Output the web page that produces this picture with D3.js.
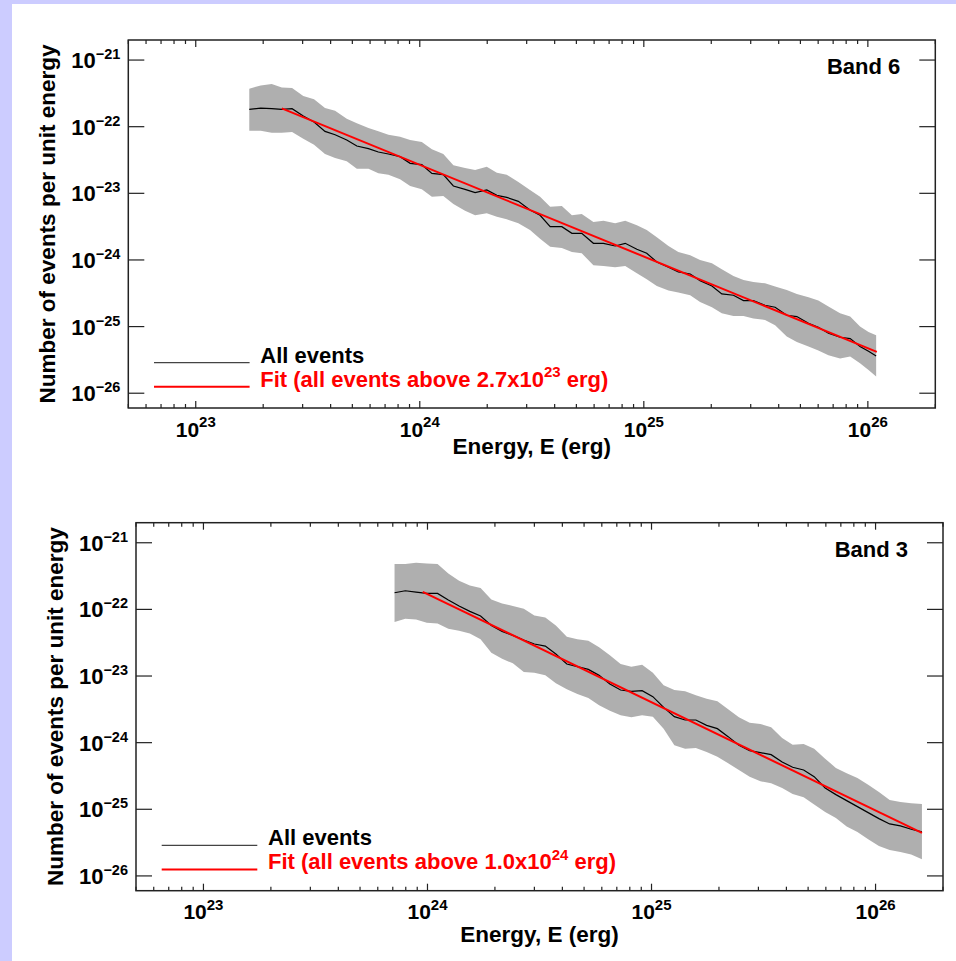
<!DOCTYPE html>
<html>
<head>
<meta charset="utf-8">
<script src="https://cdn.jsdelivr.net/npm/d3@7"></script>
<style>
    html, body { margin: 0; padding: 0; background: #ccccff; }
    svg { display: block; }
    text { font-family: "Liberation Sans", Arial, Helvetica, sans-serif; font-weight: bold; }
</style>
</head>
<body>
<div id="chart"></div>
<script>
// values are log10: energy in erg, and number of events per unit energy

// Band 6
const band6LogE = [
    23.239, 23.290, 23.339, 23.384, 23.430, 23.480, 23.528, 23.577, 23.622, 23.674,
    23.719, 23.771, 23.815, 23.860, 23.912, 23.957, 24.009, 24.054, 24.105, 24.150,
    24.202, 24.247, 24.299, 24.344, 24.388, 24.440, 24.492, 24.537, 24.582, 24.634,
    24.679, 24.723, 24.775, 24.820, 24.872, 24.917, 24.969, 25.013, 25.058, 25.110,
    25.154, 25.207, 25.251, 25.304, 25.348, 25.400, 25.445, 25.489, 25.541, 25.586,
    25.638, 25.683, 25.735, 25.779, 25.824, 25.876, 25.921, 25.965, 26.003, 26.037]
const band6Mid = [
    -21.74, -21.72, -21.73, -21.74, -21.73, -21.84, -21.93, -22.07, -22.12, -22.20,
    -22.29, -22.33, -22.38, -22.41, -22.45, -22.55, -22.57, -22.70, -22.72, -22.89,
    -22.94, -22.99, -22.95, -23.03, -23.06, -23.12, -23.25, -23.33, -23.50, -23.50,
    -23.60, -23.60, -23.75, -23.75, -23.79, -23.75, -23.84, -23.90, -24.03, -24.11,
    -24.18, -24.21, -24.31, -24.39, -24.51, -24.53, -24.61, -24.61, -24.68, -24.71,
    -24.83, -24.85, -24.95, -25.01, -25.10, -25.16, -25.18, -25.30, -25.37, -25.44]
const band6Lo = [
    -22.06, -22.06, -22.09, -22.09, -22.08, -22.18, -22.27, -22.41, -22.47, -22.52,
    -22.63, -22.63, -22.70, -22.72, -22.79, -22.89, -22.94, -23.05, -23.04, -23.16,
    -23.26, -23.33, -23.30, -23.35, -23.39, -23.45, -23.55, -23.68, -23.80, -23.82,
    -23.88, -23.90, -24.08, -24.09, -24.11, -24.09, -24.20, -24.29, -24.39, -24.46,
    -24.49, -24.53, -24.63, -24.71, -24.80, -24.84, -24.84, -24.88, -24.90, -24.98,
    -25.15, -25.23, -25.30, -25.36, -25.43, -25.48, -25.45, -25.55, -25.65, -25.75]
const band6Hi = [
    -21.43, -21.38, -21.36, -21.41, -21.42, -21.54, -21.59, -21.72, -21.76, -21.88,
    -21.95, -22.02, -22.07, -22.12, -22.15, -22.20, -22.23, -22.34, -22.41, -22.58,
    -22.62, -22.65, -22.60, -22.69, -22.72, -22.83, -22.95, -23.05, -23.20, -23.19,
    -23.33, -23.31, -23.43, -23.41, -23.45, -23.41, -23.48, -23.55, -23.66, -23.79,
    -23.88, -23.93, -24.00, -24.05, -24.14, -24.24, -24.30, -24.33, -24.35, -24.40,
    -24.45, -24.51, -24.56, -24.61, -24.70, -24.80, -24.85, -25.00, -25.08, -25.13]
const band6Fit = [[23.384, -21.725], [26.040, -25.380]]

// Band 3
const band3LogE = [
    23.853, 23.901, 23.949, 23.997, 24.045, 24.093, 24.141, 24.189, 24.237, 24.285,
    24.333, 24.381, 24.430, 24.477, 24.526, 24.573, 24.622, 24.669, 24.718, 24.766,
    24.814, 24.862, 24.910, 24.958, 25.006, 25.054, 25.102, 25.150, 25.198, 25.246,
    25.294, 25.342, 25.390, 25.438, 25.486, 25.534, 25.583, 25.630, 25.679, 25.726,
    25.775, 25.823, 25.871, 25.919, 25.967, 26.015, 26.063, 26.111, 26.159, 26.207]
const band3Mid = [
    -21.75, -21.72, -21.74, -21.76, -21.76, -21.86, -21.95, -22.03, -22.10, -22.24,
    -22.33, -22.39, -22.46, -22.52, -22.55, -22.67, -22.82, -22.86, -22.90, -22.99,
    -23.12, -23.21, -23.23, -23.22, -23.31, -23.47, -23.61, -23.66, -23.66, -23.74,
    -23.79, -23.91, -24.04, -24.12, -24.15, -24.18, -24.29, -24.37, -24.41, -24.51,
    -24.68, -24.78, -24.87, -24.96, -25.05, -25.14, -25.22, -25.25, -25.30, -25.34]
const band3Lo = [
    -22.19, -22.14, -22.15, -22.20, -22.21, -22.29, -22.32, -22.36, -22.45, -22.65,
    -22.74, -22.81, -22.94, -22.95, -22.99, -23.11, -23.20, -23.27, -23.33, -23.44,
    -23.52, -23.59, -23.62, -23.59, -23.61, -23.79, -24.04, -24.09, -24.08, -24.14,
    -24.21, -24.31, -24.41, -24.51, -24.58, -24.61, -24.68, -24.77, -24.82, -24.93,
    -25.04, -25.13, -25.26, -25.34, -25.45, -25.55, -25.61, -25.64, -25.68, -25.75]
const band3Hi = [
    -21.32, -21.32, -21.30, -21.31, -21.32, -21.46, -21.57, -21.64, -21.68, -21.85,
    -21.91, -21.95, -21.99, -22.09, -22.12, -22.24, -22.41, -22.45, -22.47, -22.57,
    -22.69, -22.82, -22.86, -22.83, -22.95, -23.14, -23.21, -23.23, -23.29, -23.34,
    -23.38, -23.50, -23.62, -23.70, -23.72, -23.77, -23.93, -24.03, -24.02, -24.09,
    -24.24, -24.38, -24.46, -24.53, -24.63, -24.74, -24.86, -24.89, -24.91, -24.92]
const band3Fit = [[23.979, -21.736], [26.207, -25.354]]

// axes
const xDomain = [5e22, 2e26]
const yDomain = [6e-27, 2e-21]
const yTickExps = [-21, -22, -23, -24, -25, -26]
const xTitle = 'Energy, E (erg)'
const yTitle = 'Number of events per unit energy'
const legendAll = 'All events'
const legendFit = 'Fit (all events above '

const SpectrumPanel = function () {
    let width = 807;
    let height = 368;
    let margin = {top: 40, left: 128.3};
    let label = '';
    let threshold = ['2.7', 23];
    let titleGap = 45.5;

    function my (selection) {
        selection.each(function (d) {
            const top = d3.select(this)
                .append('g')
                .attr('transform', `translate(${margin.left},${margin.top})`)

            const x = d3.scaleLog().domain(xDomain).range([0, width])
            const y = d3.scaleLog().domain(yDomain).range([height, 0])
            const p = v => Math.pow(10, v)
            const idx = d3.range(d.logE.length)

            // shaded spread
            const area = d3.area()
                .x(i => x(p(d.logE[i])))
                .y0(i => y(p(d.lo[i])))
                .y1(i => y(p(d.hi[i])))
            top.append('path')
                .datum(idx)
                .attr('d', area)
                .attr('fill', '#afafaf')

            // all events
            const line = d3.line()
                .x(i => x(p(d.logE[i])))
                .y(i => y(p(d.mid[i])))
            top.append('path')
                .datum(idx)
                .attr('d', line)
                .attr('fill', 'none')
                .attr('stroke', '#000')
                .attr('stroke-width', 1.2)

            // power-law fit
            top.append('path')
                .datum(d.fit)
                .attr('d', d3.line().x(f => x(p(f[0]))).y(f => y(p(f[1]))))
                .attr('fill', 'none')
                .attr('stroke', '#ff0000')
                .attr('stroke-width', 2)

            // frame
            top.append('rect')
                .attr('width', width)
                .attr('height', height)
                .attr('fill', 'none')
                .attr('stroke', '#222')
                .attr('stroke-width', 1.5)

            // x ticks, top and bottom, pointing in
            const xt = x.ticks()
            const isMajor = v => Math.abs(Math.log10(v) - Math.round(Math.log10(v))) < 1e-9
            const xticks = top.append('g').attr('class', 'x-ticks')
                .attr('stroke', '#222').attr('stroke-width', 1.2)
            xticks.selectAll('line.bottom')
                .data(xt)
                .join('line')
                .attr('class', 'bottom')
                .attr('x1', v => x(v)).attr('x2', v => x(v))
                .attr('y1', height).attr('y2', v => height - (isMajor(v) ? 7 : 4))
            xticks.selectAll('line.top')
                .data(xt)
                .join('line')
                .attr('class', 'top')
                .attr('x1', v => x(v)).attr('x2', v => x(v))
                .attr('y1', 0).attr('y2', v => isMajor(v) ? 7 : 4)

            const xlab = top.selectAll('text.xtick')
                .data(xt.filter(isMajor))
                .join('text')
                .attr('class', 'xtick')
                .attr('x', v => x(v))
                .attr('y', height + 28.5)
                .attr('text-anchor', 'middle')
                .style('font-size', '21px')
            xlab.append('tspan').text('10')
            xlab.append('tspan')
                .attr('dy', -9.5)
                .style('font-size', '15px')
                .text(v => Math.round(Math.log10(v)))

            // y ticks, left and right
            const yticks = top.append('g').attr('class', 'y-ticks')
                .attr('stroke', '#222').attr('stroke-width', 1.2)
            yticks.selectAll('line.left')
                .data(yTickExps)
                .join('line')
                .attr('class', 'left')
                .attr('x1', 0).attr('x2', 16)
                .attr('y1', e => y(p(e))).attr('y2', e => y(p(e)))
            yticks.selectAll('line.right')
                .data(yTickExps)
                .join('line')
                .attr('class', 'right')
                .attr('x1', width).attr('x2', width - 16)
                .attr('y1', e => y(p(e))).attr('y2', e => y(p(e)))

            const ylab = top.selectAll('text.ytick')
                .data(yTickExps)
                .join('text')
                .attr('class', 'ytick')
                .attr('x', -8)
                .attr('y', e => y(p(e)) + 8)
                .attr('text-anchor', 'end')
                .style('font-size', '22px')
            ylab.append('tspan').text('10')
            ylab.append('tspan')
                .attr('dy', -9)
                .style('font-size', '14.5px')
                .text(e => '\u2212' + Math.abs(e))

            // axis titles
            top.append('text')
                .attr('x', width / 2)
                .attr('y', height + titleGap)
                .attr('text-anchor', 'middle')
                .style('font-size', '22.5px')
                .text(xTitle)
            top.append('text')
                .attr('transform', `translate(-73,${height / 2}) rotate(-90)`)
                .attr('text-anchor', 'middle')
                .style('font-size', '22.5px')
                .text(yTitle)

            // band name
            top.append('text')
                .attr('x', width - 35)
                .attr('y', 34)
                .attr('text-anchor', 'end')
                .style('font-size', '22px')
                .text(label)

            // legend
            const legend = top.append('g').attr('class', 'legend')
            legend.append('line')
                .attr('x1', 25.7).attr('x2', 121.3)
                .attr('y1', 322.7).attr('y2', 322.7)
                .attr('stroke', '#444').attr('stroke-width', 1.3)
            legend.append('line')
                .attr('x1', 25.7).attr('x2', 121.3)
                .attr('y1', 346.7).attr('y2', 346.7)
                .attr('stroke', '#ff0000').attr('stroke-width', 2)
            legend.append('text')
                .attr('x', 132)
                .attr('y', 322.7)
                .style('font-size', '22px')
                .text(legendAll)
            const fitText = legend.append('text')
                .attr('x', 132)
                .attr('y', 346.7)
                .attr('fill', '#ff0000')
                .style('font-size', '22px')
            fitText.append('tspan').text(legendFit + threshold[0] + 'x10')
            fitText.append('tspan')
                .attr('dy', -9.5)
                .style('font-size', '15px')
                .text(threshold[1])
            fitText.append('tspan')
                .attr('dy', 9.5)
                .text(' erg)')
        });
    }

    my.margin = function (v) {
        margin = v;
        return my;
    };

    my.label = function (v) {
        label = v;
        return my;
    };

    my.threshold = function (v) {
        threshold = v;
        return my;
    };

    my.titleGap = function (v) {
        titleGap = v;
        return my;
    };

    return my;
};

const svg = d3.select('#chart')
    .append('svg')
    .attr('width', 956)
    .attr('height', 961)

svg.append('rect')
    .attr('x', 12).attr('y', 4)
    .attr('width', 944).attr('height', 957)
    .attr('fill', '#fff')

svg.append('g')
    .datum({logE: band6LogE, mid: band6Mid, lo: band6Lo, hi: band6Hi, fit: band6Fit})
    .call(SpectrumPanel().margin({top: 40, left: 128.3}).label('Band 6').threshold(['2.7', 23]))

svg.append('g')
    .datum({logE: band3LogE, mid: band3Mid, lo: band3Lo, hi: band3Hi, fit: band3Fit})
    .call(SpectrumPanel().margin({top: 522.7, left: 136}).label('Band 3').threshold(['1.0', 24]).titleGap(51.5))
</script>
</body>
</html>
